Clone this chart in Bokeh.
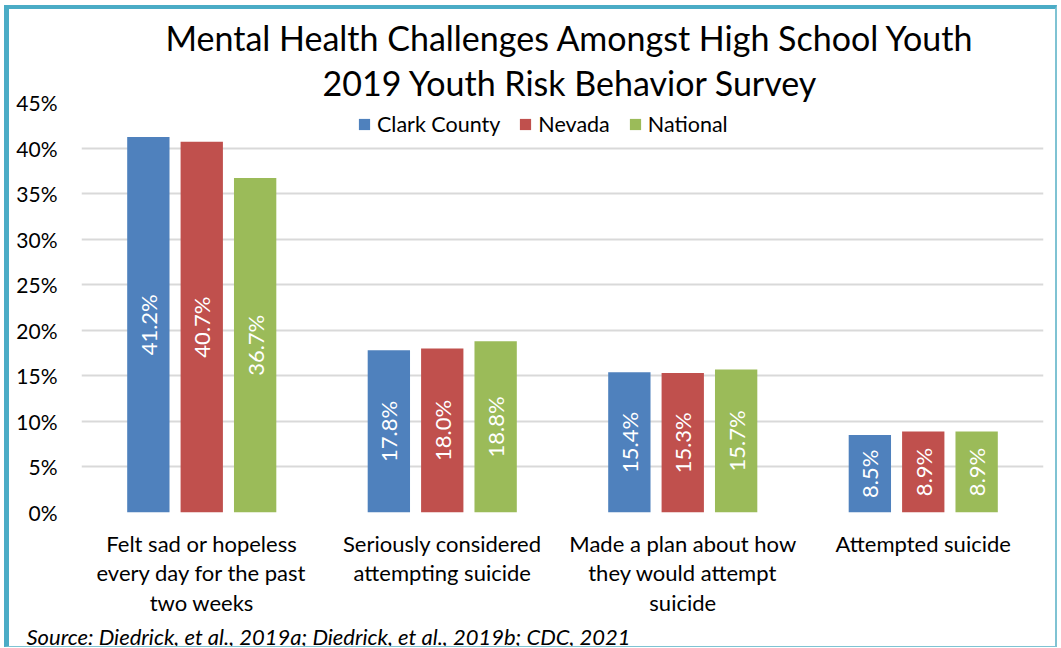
import math
from bokeh.plotting import figure
from bokeh.models import (ColumnDataSource, FactorRange, Range1d, Legend, LegendItem,
                          Title, PrintfTickFormatter, FixedTicker)
from bokeh.transform import dodge
from bokeh.core.properties import value
from bokeh.embed import file_html
from bokeh.resources import INLINE

categories = [
    "Felt sad or hopeless\nevery day for the past\ntwo weeks",
    "Seriously considered\nattempting suicide",
    "Made a plan about how\nthey would attempt\nsuicide",
    "Attempted suicide",
]
series_names = ["Clark County", "Nevada", "National"]
clark_county = [41.2, 17.8, 15.4, 8.5]
nevada = [40.7, 18.0, 15.3, 8.9]
national = [36.7, 18.8, 15.7, 8.9]
colors = ["#4F81BD", "#C0504D", "#9BBB59"]
y_ticks = [0, 5, 10, 15, 20, 25, 30, 35, 40, 45]
title_line1 = "Mental Health Challenges Amongst High School Youth"
title_line2 = "2019 Youth Risk Behavior Survey"
source_text = "Source: Diedrick, et al., 2019a; Diedrick, et al., 2019b; CDC, 2021"

FONT = "Lato"

# border-box sizing: 5px left + 2px right border, 4px top + 1px bottom border
p = figure(width=1053, height=642, title=None,
           x_range=FactorRange(factors=categories, range_padding=0),
           y_range=Range1d(0, 45),
           output_backend="svg", toolbar_location=None,
           min_border_left=72, min_border_right=19,
           min_border_top=93, min_border_bottom=131)
p.outline_line_color = None
p.background_fill_color = "white"
p.border_fill_color = "white"
p.styles = {
    "margin-left": "4px", "margin-top": "5px",
    "border-left": "5px solid #4BACC6", "border-top": "4px solid #4BACC6",
    "border-right": "2px solid #7FC3D3", "border-bottom": "1px solid #7FC3D3",
}

t2 = Title(text=title_line2, align="left", offset=241, standoff=0,
           text_font=FONT, text_font_size="34px", text_font_style="normal",
           text_color="black")
p.add_layout(t2, "above")
t1 = Title(text=title_line1, align="left", offset=84, standoff=3,
           text_font=FONT, text_font_size="34px", text_font_style="normal",
           text_color="black")
p.add_layout(t1, "above")

data = dict(cat=categories)
all_vals = [clark_county, nevada, national]
keys = ["clark", "nevada", "national"]
for k, vals in zip(keys, all_vals):
    data[k] = vals
    data[k + "_mid"] = [v / 2 for v in vals]
    data[k + "_lbl"] = [f"{v:.1f}%" for v in vals]
src = ColumnDataSource(data)

offsets = [-0.222, 0.0, 0.222]
items = []
for k, name, col, off in zip(keys, series_names, colors, offsets):
    r = p.vbar(x=dodge("cat", off, range=p.x_range), top=k, width=0.176,
               source=src, fill_color=col, line_color=None)
    p.text(x=dodge("cat", off, range=p.x_range), y=k + "_mid", text=k + "_lbl",
           angle=math.pi / 2, text_align="center", text_baseline="middle",
           text_color="white", text_font=value(FONT), text_font_size="22px",
           source=src)
    items.append(LegendItem(label=name, renderers=[r]))

legend = Legend(items=items, orientation="horizontal", location=(276, 375),
                margin=0, padding=5, spacing=18, label_standoff=6,
                glyph_width=14, glyph_height=14,
                label_text_font=FONT, label_text_font_size="21.5px",
                label_text_color="black",
                border_line_color=None, background_fill_alpha=0)
p.add_layout(legend, "center")

p.xgrid.grid_line_color = None
p.ygrid.ticker = FixedTicker(ticks=y_ticks)
p.ygrid.grid_line_color = "#D9D9D9"
p.ygrid.grid_line_width = 2

p.yaxis.ticker = FixedTicker(ticks=y_ticks)
p.yaxis.formatter = PrintfTickFormatter(format="%d%%")
p.yaxis.axis_line_color = None
p.yaxis.major_tick_line_color = None
p.yaxis.minor_tick_line_color = None
p.yaxis.major_label_standoff = 18
p.yaxis.major_label_text_font = FONT
p.yaxis.major_label_text_font_size = "21px"
p.yaxis.major_label_text_color = "black"

p.xaxis.axis_line_color = None
p.xaxis.major_tick_line_color = None
p.xaxis.minor_tick_line_color = None
p.xaxis.major_label_standoff = 11
p.xaxis.major_label_text_font = FONT
p.xaxis.major_label_text_font_size = "22px"
p.xaxis.major_label_text_line_height = 1.1
p.xaxis.major_label_text_color = "black"

src_title = Title(text=source_text, align="left", offset=-55, standoff=4,
                  text_font=FONT, text_font_size="22px", text_font_style="italic",
                  text_color="black")
p.add_layout(src_title, "below")

open("out.html", "w").write(file_html(p, INLINE))
